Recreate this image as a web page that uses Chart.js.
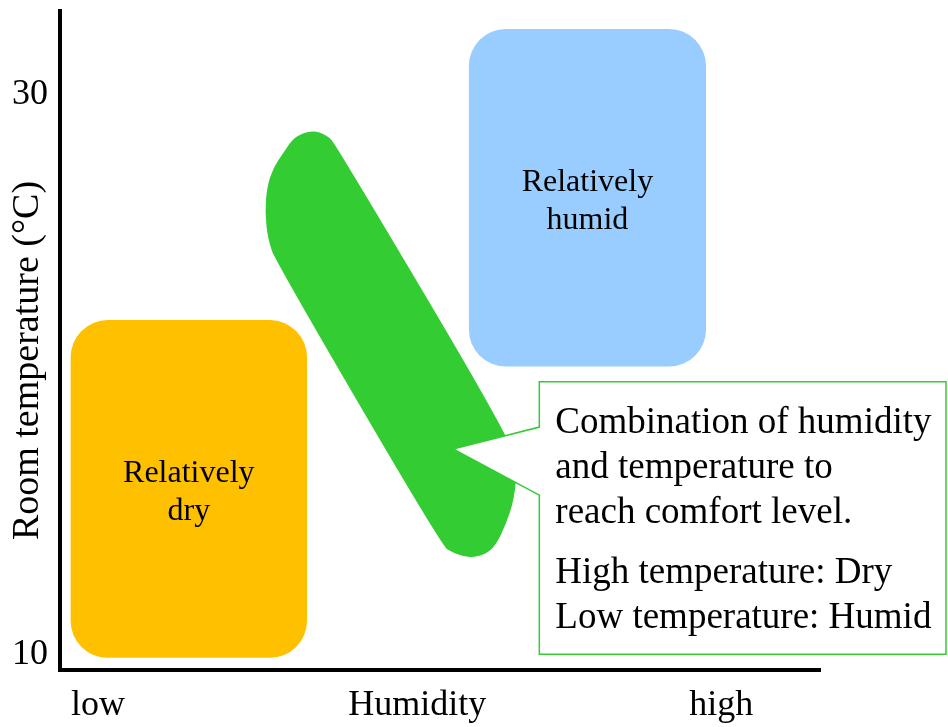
<!DOCTYPE html>
<html>
<head>
<meta charset="utf-8">
<script src="https://cdn.jsdelivr.net/npm/chart.js@4.4.0/dist/chart.umd.min.js"></script>
<style>
  html, body { margin: 0; padding: 0; background: #ffffff; }
  #wrap { width: 948px; height: 727px; position: relative; }
</style>
</head>
<body>
<div id="wrap"><canvas id="c" width="948" height="727"></canvas></div>
<script>
// ---- Axis ticks / titles ----
const xTickValues = [5, 47, 87];
const xTickLabels = ['low', 'Humidity', 'high'];
const yTickValues = [10, 30];
const yTitle = 'Room temperature (°C)';

// ---- Regions (humidity range, temperature range) ----
const regionLabels = [['Relatively', 'dry'], ['Relatively', 'humid']];
const regionHumidity = [[1.4, 32.5], [53.8, 85.0]];
const regionTemperature = [[9.9, 21.96], [20.3, 32.36]];
const regionColors = ['#FFC000', '#99CCFF'];

// ---- Comfort zone outline (humidity, temperature) ----
const comfortHumidity = [33.16, 35.13, 36.32, 59.34, 60.13, 59.74, 58.68, 57.37, 56.05, 53.95, 51.71, 50.26, 28.42, 27.37, 26.97, 27.24, 28.03, 29.47, 30.79];
const comfortTemperature = [28.75, 28.57, 28.21, 17.68, 16.61, 15.54, 14.68, 13.93, 13.61, 13.46, 13.64, 13.89, 24.04, 24.82, 25.82, 26.71, 27.39, 27.96, 28.50];
const comfortColor = '#33CC33';

// ---- Callout (humidity range, temperature range, pointer) ----
const calloutHumidity = [63.07, 116.58];
const calloutTemperature = [10.03, 19.76];
const calloutNeck = [18.14, 15.71];
const calloutTip = [51.71, 17.36];
const calloutParagraphs = [
  ['Combination of humidity', 'and temperature to', 'reach comfort level.'],
  ['High temperature: Dry', 'Low temperature: Humid']
];

const SERIF = '"Liberation Serif", "Times New Roman", serif';

function roundRectPath(ctx, x, y, w, h, r) {
  ctx.beginPath();
  ctx.moveTo(x + r, y);
  ctx.lineTo(x + w - r, y);
  ctx.arcTo(x + w, y, x + w, y + r, r);
  ctx.lineTo(x + w, y + h - r);
  ctx.arcTo(x + w, y + h, x + w - r, y + h, r);
  ctx.lineTo(x + r, y + h);
  ctx.arcTo(x, y + h, x, y + h - r, r);
  ctx.lineTo(x, y + r);
  ctx.arcTo(x, y, x + r, y, r);
  ctx.closePath();
}

const shapesPlugin = {
  id: 'shapes',
  afterDraw(chart) {
    const ctx = chart.ctx;
    const sx = chart.scales.x, sy = chart.scales.y;
    ctx.save();

    // Regions
    for (let i = 0; i < regionLabels.length; i++) {
      const x0 = sx.getPixelForValue(regionHumidity[i][0]);
      const x1 = sx.getPixelForValue(regionHumidity[i][1]);
      const y0 = sy.getPixelForValue(regionTemperature[i][1]);
      const y1 = sy.getPixelForValue(regionTemperature[i][0]);
      roundRectPath(ctx, x0, y0, x1 - x0, y1 - y0, 37);
      ctx.fillStyle = regionColors[i];
      ctx.fill();
      ctx.fillStyle = '#000';
      ctx.font = '32px ' + SERIF;
      ctx.textAlign = 'center';
      ctx.textBaseline = 'alphabetic';
      const cx = (x0 + x1) / 2, cy = (y0 + y1) / 2 + 12;
      const lines = regionLabels[i];
      lines.forEach((t, k) => ctx.fillText(t, cx, cy + (k - (lines.length - 1) / 2) * 38));
    }

    // Comfort zone
    const pts = comfortHumidity.map((h, k) => [sx.getPixelForValue(h), sy.getPixelForValue(comfortTemperature[k])]);
    const n = pts.length;
    const mid = (a, b) => [(a[0] + b[0]) / 2, (a[1] + b[1]) / 2];
    ctx.beginPath();
    const m0 = mid(pts[n - 1], pts[0]);
    ctx.moveTo(m0[0], m0[1]);
    for (let k = 0; k < n; k++) {
      const p = pts[k], q = pts[(k + 1) % n];
      const m = mid(p, q);
      ctx.quadraticCurveTo(p[0], p[1], m[0], m[1]);
    }
    ctx.closePath();
    ctx.fillStyle = comfortColor;
    ctx.fill();

    // Callout
    const bx0 = sx.getPixelForValue(calloutHumidity[0]);
    const bx1 = sx.getPixelForValue(calloutHumidity[1]);
    const by0 = sy.getPixelForValue(calloutTemperature[1]);
    const by1 = sy.getPixelForValue(calloutTemperature[0]);
    const j0 = sy.getPixelForValue(calloutNeck[0]);
    const j1 = sy.getPixelForValue(calloutNeck[1]);
    const tx = sx.getPixelForValue(calloutTip[0]);
    const ty = sy.getPixelForValue(calloutTip[1]);
    ctx.beginPath();
    ctx.moveTo(bx0, by0);
    ctx.lineTo(bx1, by0);
    ctx.lineTo(bx1, by1);
    ctx.lineTo(bx0, by1);
    ctx.lineTo(bx0, j1);
    ctx.lineTo(tx, ty);
    ctx.lineTo(bx0, j0);
    ctx.closePath();
    ctx.fillStyle = '#ffffff';
    ctx.fill();
    ctx.strokeStyle = comfortColor;
    ctx.lineWidth = 1.5;
    ctx.lineJoin = 'miter';
    ctx.stroke();

    ctx.fillStyle = '#000';
    ctx.font = '37px ' + SERIF;
    ctx.textAlign = 'left';
    ctx.textBaseline = 'alphabetic';
    let y = by0 + 51;
    calloutParagraphs.forEach((para, pi) => {
      if (pi > 0) y += 15;
      para.forEach((t) => { ctx.fillText(t, bx0 + 16, y); y += 45; });
    });

    // Y axis title
    ctx.save();
    ctx.font = '38px ' + SERIF;
    ctx.textAlign = 'center';
    ctx.textBaseline = 'middle';
    ctx.translate(28, (sy.top + sy.bottom) / 2 + 20);
    ctx.rotate(-Math.PI / 2);
    ctx.fillText(yTitle, 0, 0);
    ctx.restore();

    ctx.restore();
  }
};

new Chart(document.getElementById('c'), {
  type: 'scatter',
  data: {
    datasets: [{
      label: 'comfort',
      data: comfortHumidity.map((h, k) => ({ x: h, y: comfortTemperature[k] })),
      pointRadius: 0,
      showLine: false
    }]
  },
  options: {
    responsive: false,
    animation: false,
    devicePixelRatio: 1,
    layout: { padding: { top: 11, right: 128, left: 0, bottom: 0 } },
    plugins: { legend: { display: false }, tooltip: { enabled: false } },
    scales: {
      x: {
        type: 'linear',
        min: 0,
        max: 100,
        grid: { display: false, drawTicks: false },
        border: { display: true, color: '#000', width: 4 },
        afterBuildTicks: (s) => { s.ticks = xTickValues.map(v => ({ value: v })); },
        afterFit: (s) => { s.height = 57; s.paddingLeft = 0; s.paddingRight = 0; },
        ticks: {
          autoSkip: false,
          maxRotation: 0,
          minRotation: 0,
          padding: 14,
          color: '#000',
          font: { family: SERIF, size: 36 },
          callback: (v, i) => xTickLabels[i]
        }
      },
      y: {
        type: 'linear',
        min: 9.4643,
        max: 33,
        grid: { display: false, drawTicks: false },
        border: { display: true, color: '#000', width: 4 },
        afterBuildTicks: (s) => { s.ticks = yTickValues.map(v => ({ value: v })); },
        afterFit: (s) => { s.width = 60; s.paddingTop = 0; s.paddingBottom = 0; },
        ticks: {
          padding: 12,
          color: '#000',
          font: { family: SERIF, size: 36 },
          callback: (v) => String(v)
        }
      }
    }
  },
  plugins: [shapesPlugin]
});
</script>
</body>
</html>
